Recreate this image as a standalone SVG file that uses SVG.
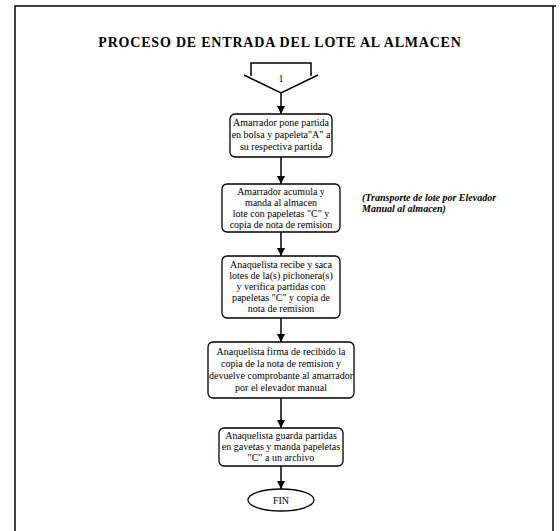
<svg xmlns="http://www.w3.org/2000/svg" width="560" height="531" viewBox="0 0 560 531">
<style>
.box{fill:#fff;stroke:#000;stroke-width:1.3}
.t{font-family:"Liberation Serif","DejaVu Serif","Times New Roman",serif;font-size:10px;fill:#000;text-anchor:middle}
.n{font-family:"Liberation Serif","DejaVu Serif","Times New Roman",serif;font-size:10px;font-style:italic;font-weight:bold;fill:#000}
.h{font-family:"Liberation Serif","DejaVu Serif","Times New Roman",serif;font-size:14px;font-weight:bold;text-anchor:middle;fill:#000}
.ln{stroke:#000;stroke-width:1.5;fill:none}
</style>
<defs>
<marker id="ah" viewBox="0 0 10 10" refX="10" refY="5" markerWidth="8" markerHeight="9" markerUnits="userSpaceOnUse" orient="auto">
<path d="M0,0 L10,5 L0,10 z" fill="#000"/>
</marker>
</defs>
<rect width="560" height="531" fill="#fff"/>
<g id="frame">
<path class="ln" d="M15,531 V6 H556 M553,6 V531"/>
</g>
<g id="title">
<text class="h" x="280" y="47" letter-spacing="0.8">PROCESO DE ENTRADA DEL LOTE AL ALMACEN</text>
</g>
<g id="start">
<path class="ln" d="M251,76 V63 H311 V76 M244,75 L281,93 L318,75" stroke-width="1.2"/>
<text class="t" x="281" y="82" font-size="12">1</text>
</g>
<g id="connectors">
<line class="ln" x1="281" y1="93" x2="281" y2="114" marker-end="url(#ah)"/>
<line class="ln" x1="281" y1="157" x2="281" y2="184" marker-end="url(#ah)"/>
<line class="ln" x1="281" y1="232" x2="281" y2="256" marker-end="url(#ah)"/>
<line class="ln" x1="281" y1="318" x2="281" y2="342" marker-end="url(#ah)"/>
<line class="ln" x1="281" y1="398" x2="281" y2="428" marker-end="url(#ah)"/>
<line class="ln" x1="281" y1="466" x2="281" y2="489" marker-end="url(#ah)"/>
</g>
<g id="n1">
<rect class="box" x="230" y="114" width="102" height="43" rx="5"/>
<text class="t" x="281" y="126">Amarrador pone partida</text>
<text class="t" x="281" y="138">en bolsa y papeleta"A" a</text>
<text class="t" x="281" y="150">su respectiva partida</text>
</g>
<g id="n2">
<rect class="box" x="222" y="184" width="118" height="48" rx="5"/>
<text class="t" x="281" y="195">Amarrador acumula y</text>
<text class="t" x="281" y="206">manda al almacen</text>
<text class="t" x="281" y="217">lote con papeletas "C" y</text>
<text class="t" x="281" y="228">copia de nota de remision</text>
</g>
<g id="note">
<text class="n" x="362" y="201">(Transporte de lote por Elevador</text>
<text class="n" x="362" y="212">Manual al almacen)</text>
</g>
<g id="n3">
<rect class="box" x="222" y="256" width="118" height="62" rx="5"/>
<text class="t" x="281" y="268">Anaquelista recibe y saca</text>
<text class="t" x="281" y="279">lotes de la(s) pichonera(s)</text>
<text class="t" x="281" y="290">y verifica partidas con</text>
<text class="t" x="281" y="301">papeletas "C" y copia de</text>
<text class="t" x="281" y="312">nota de remision</text>
</g>
<g id="n4">
<rect class="box" x="208" y="342" width="146" height="56" rx="5"/>
<text class="t" x="281" y="355">Anaquelista firma de recibido la</text>
<text class="t" x="281" y="367">copia de la nota de remision y</text>
<text class="t" x="281" y="379">devuelve comprobante al amarrador</text>
<text class="t" x="281" y="391">por el elevador manual</text>
</g>
<g id="n5">
<rect class="box" x="219" y="428" width="124" height="38" rx="5"/>
<text class="t" x="281" y="439">Anaquelista guarda  partidas</text>
<text class="t" x="281" y="450">en gavetas y manda papeletas</text>
<text class="t" x="281" y="461">"C" a un archivo</text>
</g>
<g id="fin">
<ellipse class="box" cx="281" cy="500" rx="33" ry="11"/>
<text class="t" x="281" y="504">FIN</text>
</g>
</svg>
